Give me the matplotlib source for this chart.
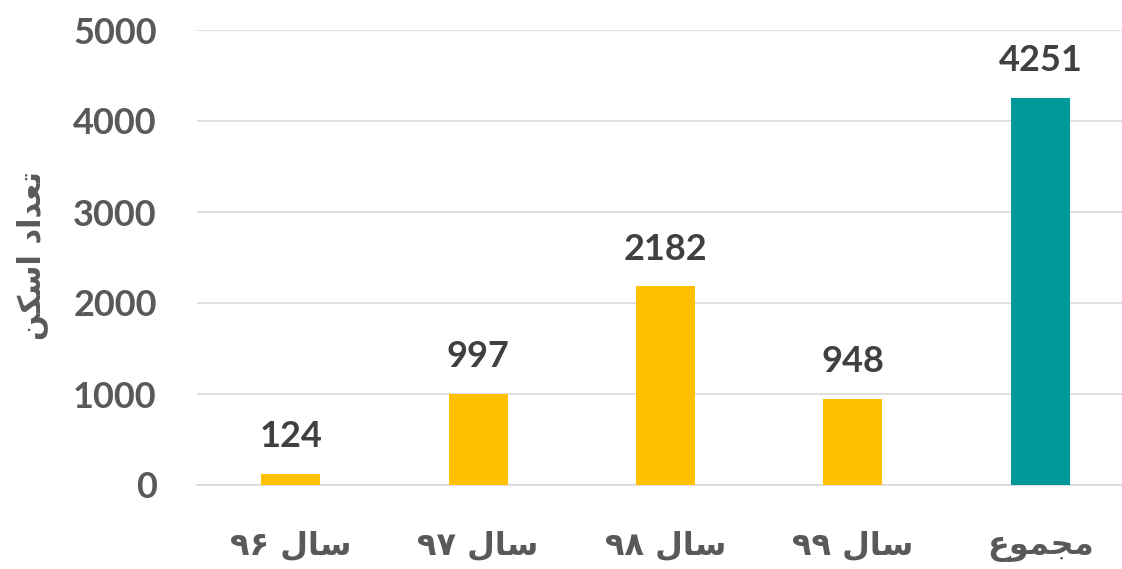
import matplotlib
matplotlib.use("Agg")
import matplotlib.pyplot as plt

# Data (logical Persian labels kept for reference; visual presentation forms used for rendering)
categories_logical = ["سال ۹۶", "سال ۹۷", "سال ۹۸", "سال ۹۹", "مجموع"]
# Visual-order, pre-shaped presentation forms (matplotlib has no Arabic shaping/bidi)
SAL = "\uFEDD\uFE8E\uFEB3"  # سال
categories = [
    "\u06F9\u06F6 " + SAL,
    "\u06F9\u06F7 " + SAL,
    "\u06F9\u06F8 " + SAL,
    "\u06F9\u06F9 " + SAL,
    "\uFEC9\uFEEE\uFEE4\uFEA0\uFEE3",  # مجموع
]
values = [124, 997, 2182, 948, 4251]
bar_colors = ["#FFC000", "#FFC000", "#FFC000", "#FFC000", "#009999"]
yticks = [0, 1000, 2000, 3000, 4000, 5000]
ylabel_text = "\uFEE6\uFB91\uFEB3\uFE8D \uFEA9\uFE8D\uFEAA\uFECC\uFE97"  # تعداد اسکن

plt.rcParams['font.family'] = ['Lato', 'DejaVu Sans']

W, H = 1122, 569
fig = plt.figure(figsize=(W / 100, H / 100), dpi=100)
left, right = 197 / W, 1134 / W
bottom, top = 1 - 485 / H, 1 - 30 / H
ax = fig.add_axes([left, bottom, right - left, top - bottom])

x = list(range(len(values)))
ax.bar(x, values, width=0.315, color=bar_colors, zorder=3)

ax.set_xlim(-0.5, len(values) - 0.5)
ax.set_ylim(0, 5000)
ax.set_yticks(yticks)
ax.set_yticklabels([str(t) for t in yticks], fontsize=26, fontweight='bold', color='#595959')
ax.tick_params(axis='y', length=0, pad=29)
ax.set_xticks(x)
ax.set_xticklabels(categories, fontsize=23, fontweight='bold', color='#595959',
                   family=['DejaVu Sans'])
ax.tick_params(axis='x', length=0, pad=33)

ax.grid(axis='y', color='#D9D9D9', linewidth=1.2, zorder=0)
for s in ['top', 'right', 'left']:
    ax.spines[s].set_visible(False)
ax.spines['bottom'].set_color('#D9D9D9')
ax.spines['bottom'].set_linewidth(1.2)

for xi, v in zip(x, values):
    ax.annotate(str(v), (xi, v), xytext=(0, 15), textcoords='offset points',
                ha='center', va='bottom', fontsize=26, fontweight='bold', color='#404040')

fig.text(32 / W, 1 - 256 / H, ylabel_text, rotation=90, ha='center', va='center',
         fontsize=22, fontweight='bold', color='#595959', family=['DejaVu Sans'])

fig.savefig("out.png", dpi=100)
